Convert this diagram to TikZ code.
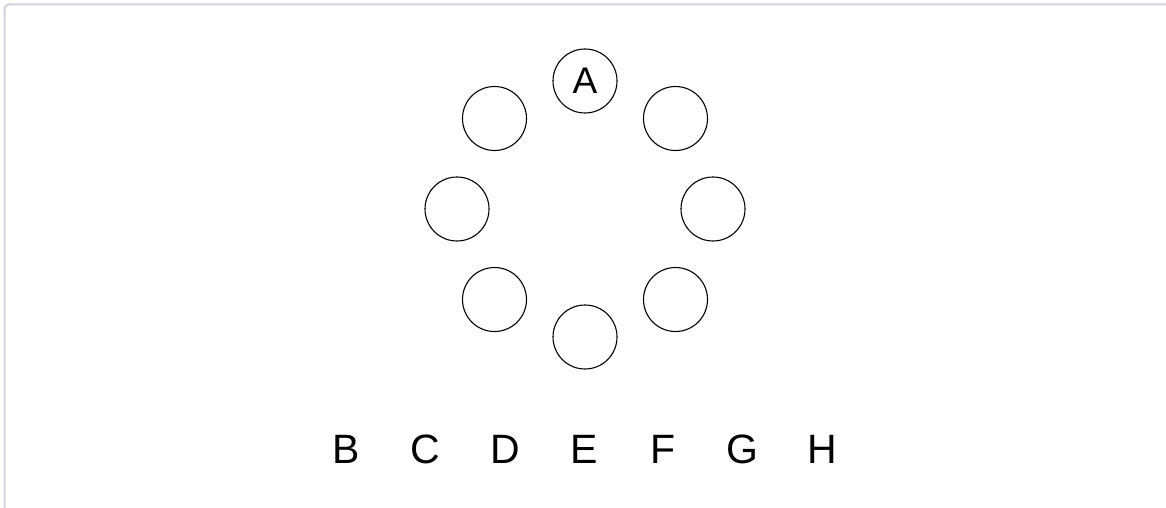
\documentclass[tikz,border=0pt]{standalone}
\usepackage{fontspec}
\setmainfont{Liberation Sans}
\usetikzlibrary{calc}
\definecolor{framegray}{HTML}{D2D2DE}
\begin{document}
\begin{tikzpicture}[x=1pt,y=-1pt,
  ring/.style={circle,draw=black,line width=1.1pt,minimum size=64pt,inner sep=0pt,font=\fontsize{37}{40}\selectfont},
  lbl/.style={font=\fontsize{41}{44}\selectfont,inner sep=0pt,anchor=base}]
\useasboundingbox (0,0) rectangle (1166,508);
\draw[framegray,line width=2pt,rounded corners=4pt] (4.7,508) -- (4.7,4.5) -- (1166,4.5);
\coordinate (ctr) at (585,209);
\node[ring] (nA) at ($(ctr)+(0,-128)$) {A};
\node[ring] (n1) at ($(ctr)+(-90.5,-90.5)$) {};
\node[ring] (n2) at ($(ctr)+(90.5,-90.5)$) {};
\node[ring] (n3) at ($(ctr)+(-128,0)$) {};
\node[ring] (n4) at ($(ctr)+(128,0)$) {};
\node[ring] (n5) at ($(ctr)+(-90.5,90.5)$) {};
\node[ring] (n6) at ($(ctr)+(90.5,90.5)$) {};
\node[ring] (n7) at ($(ctr)+(0,128)$) {};
\node[lbl] (lB) at (346,463) {B};
\node[lbl] (lC) at (425,463) {C};
\node[lbl] (lD) at (505,463) {D};
\node[lbl] (lE) at (584,463) {E};
\node[lbl] (lF) at (663,463) {F};
\node[lbl] (lG) at (742,463) {G};
\node[lbl] (lH) at (822,463) {H};
\end{tikzpicture}
\end{document}
